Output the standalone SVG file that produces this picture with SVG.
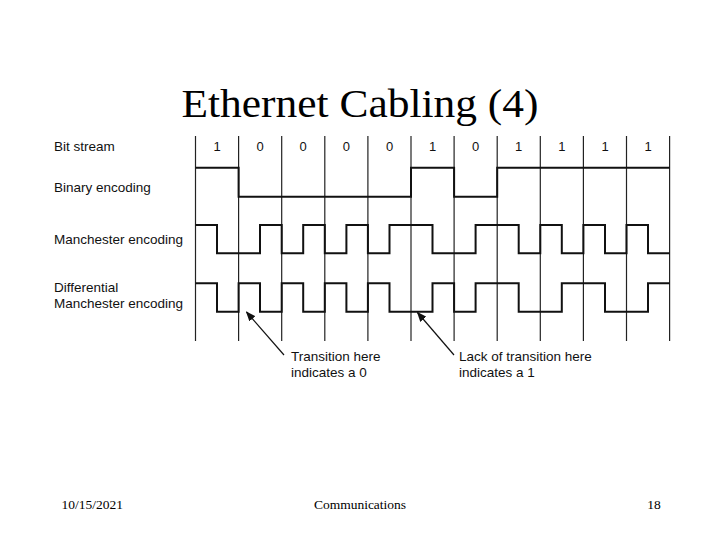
<svg xmlns="http://www.w3.org/2000/svg" width="720" height="540" viewBox="0 0 720 540">
<style>
.lbl{font-family:"Liberation Sans",Arial,sans-serif;font-size:13.5px;fill:#111}
.bit{font-family:"Liberation Sans",Arial,sans-serif;font-size:13px;fill:#111;text-anchor:middle}
.grid{stroke:#222;stroke-width:1.2;fill:none}
.wave{stroke:#111;stroke-width:2;fill:none;stroke-linejoin:miter}
.ft{font-family:"Liberation Serif","Times New Roman",serif;font-size:13.5px;fill:#000}
.arr{stroke:#111;stroke-width:1.2;fill:none}
</style>
<defs>
<marker id="ah" markerWidth="10" markerHeight="8" refX="9" refY="4" orient="auto" markerUnits="userSpaceOnUse">
<path d="M0,0 L10,4 L0,8 z" fill="#111"/>
</marker>
</defs>
<rect width="720" height="540" fill="#fff"/>
<text x="181.5" y="117" font-family="'Liberation Serif','Times New Roman',serif" font-size="40" textLength="357" lengthAdjust="spacingAndGlyphs" fill="#000">Ethernet Cabling (4)</text>

<g id="labels">
<text class="lbl" x="54" y="151">Bit stream</text>
<text class="lbl" x="54" y="192">Binary encoding</text>
<text class="lbl" x="54" y="244">Manchester encoding</text>
<text class="lbl" x="54" y="292">Differential</text>
<text class="lbl" x="54" y="308">Manchester encoding</text>
</g>

<g id="grid" class="grid">
<line x1="195.5" y1="136" x2="195.5" y2="341"/>
<line x1="238.6" y1="136" x2="238.6" y2="341"/>
<line x1="281.7" y1="136" x2="281.7" y2="341"/>
<line x1="324.8" y1="136" x2="324.8" y2="341"/>
<line x1="367.9" y1="136" x2="367.9" y2="341"/>
<line x1="411" y1="136" x2="411" y2="341"/>
<line x1="454.1" y1="136" x2="454.1" y2="341"/>
<line x1="497.2" y1="136" x2="497.2" y2="341"/>
<line x1="540.3" y1="136" x2="540.3" y2="341"/>
<line x1="583.4" y1="136" x2="583.4" y2="341"/>
<line x1="626.5" y1="136" x2="626.5" y2="341"/>
<line x1="669.6" y1="136" x2="669.6" y2="341"/>
</g>

<g id="bits">
<text class="bit" x="217" y="151">1</text>
<text class="bit" x="260.2" y="151">0</text>
<text class="bit" x="303.2" y="151">0</text>
<text class="bit" x="346.4" y="151">0</text>
<text class="bit" x="389.5" y="151">0</text>
<text class="bit" x="432.5" y="151">1</text>
<text class="bit" x="475.6" y="151">0</text>
<text class="bit" x="518.7" y="151">1</text>
<text class="bit" x="561.8" y="151">1</text>
<text class="bit" x="605" y="151">1</text>
<text class="bit" x="648" y="151">1</text>
</g>

<g id="binary">
<path class="wave" d="M195.5,167.7 H238.6 V196.7 H411 V167.7 H454.1 V196.7 H497.2 V167.7 H669.6"/>
</g>
<g id="manchester">
<path class="wave" d="M195.5,225 H217 V253.3 H260 V225 H281.7 V253.3 H303.2 V225 H324.8 V253.3 H346.4 V225 H367.9 V253.3 H389.5 V225 H432.5 V253.3 H475.6 V225 H518.7 V253.3 H540.3 V225 H561.8 V253.3 H583.4 V225 H605 V253.3 H626.5 V225 H648 V253.3 H669.6"/>
</g>
<g id="differential">
<path class="wave" d="M195.5,283.3 H217 V311.7 H238.6 V283.3 H260 V311.7 H281.7 V283.3 H303.2 V311.7 H324.8 V283.3 H346.4 V311.7 H367.9 V283.3 H389.5 V311.7 H432.5 V283.3 H454.1 V311.7 H475.6 V283.3 H518.7 V311.7 H561.8 V283.3 H605 V311.7 H648 V283.3 H669.6"/>
</g>

<g id="connectors">
<line class="arr" x1="284" y1="355" x2="246.5" y2="312" marker-end="url(#ah)"/>
<line class="arr" x1="454" y1="355" x2="417.5" y2="312.5" marker-end="url(#ah)"/>
</g>

<g id="notes">
<text class="lbl" x="291" y="361">Transition here</text>
<text class="lbl" x="291" y="377">indicates a 0</text>
<text class="lbl" x="459" y="361">Lack of transition here</text>
<text class="lbl" x="459" y="377">indicates a 1</text>
</g>

<g id="footer">
<text class="ft" x="61.5" y="509">10/15/2021</text>
<text class="ft" x="360" y="509" text-anchor="middle">Communications</text>
<text class="ft" x="654" y="509" text-anchor="middle">18</text>
</g>
</svg>
